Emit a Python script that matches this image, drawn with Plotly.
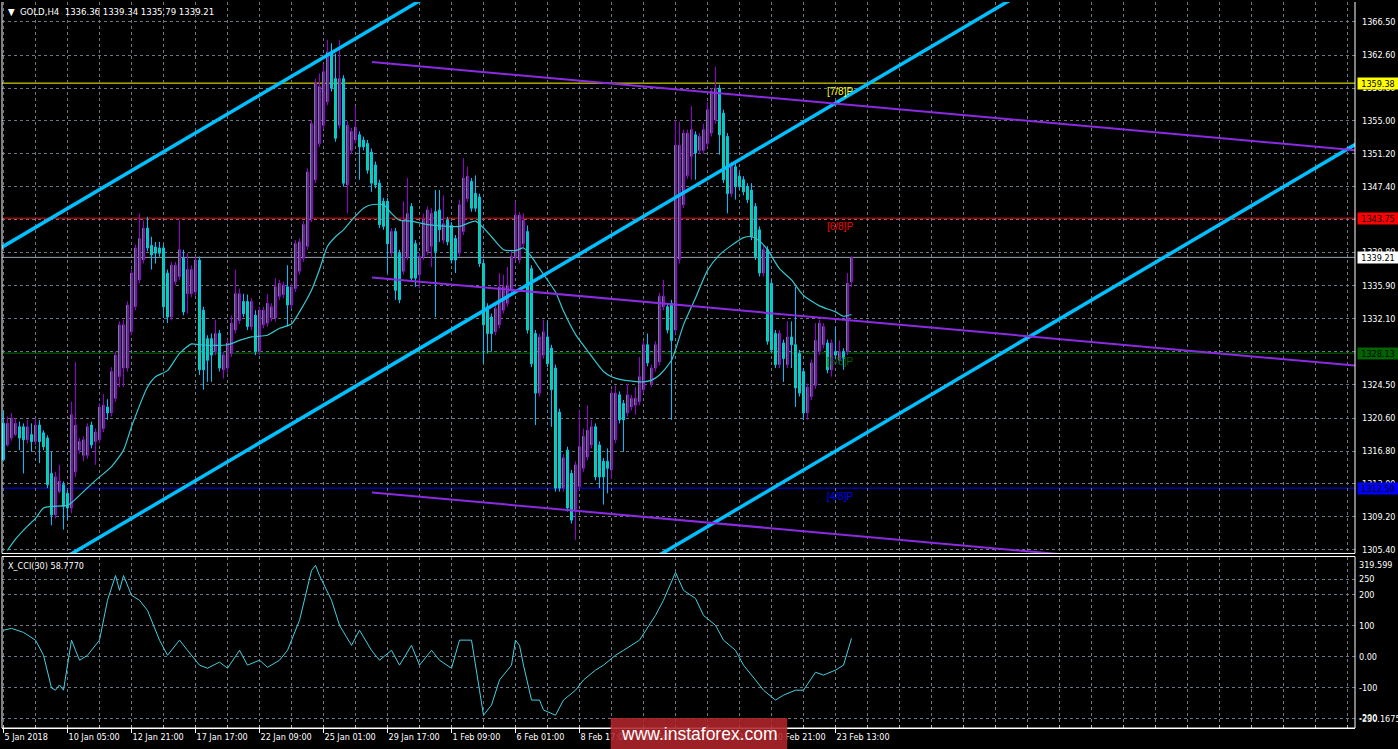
import plotly.graph_objects as go
from plotly.subplots import make_subplots

# ---------------- data ----------------
bar_index = list(range(213))
opens = [1320.0,1317.5,1318.3,1318.7,1319.6,1319.6,1318.1,1318.7,1317.9,1319.8,
         1318.9,1318.3,1314.2,1309.4,1312.1,1312.9,1311.9,1310.2,1314.4,1316.9,
         1316.3,1316.3,1319.8,1317.9,1318.1,1319.4,1321.9,1321.2,1322.9,1325.4,
         1326.4,1326.4,1330.6,1333.5,1336.6,1338.9,1342.6,1340.6,1340.4,1340.3,
         1340.3,1337.4,1332.3,1336.4,1337.0,1339.1,1335.0,1335.0,1335.2,1338.9,
         1333.1,1329.8,1329.8,1328.3,1330.4,1326.2,1326.4,1328.1,1330.8,1331.9,
         1334.1,1334.1,1331.2,1332.5,1328.3,1331.4,1331.6,1332.2,1332.2,1334.7,
         1334.9,1335.8,1333.7,1335.6,1337.6,1339.1,1340.5,1343.7,1348.2,1352.4,
         1354.5,1357.2,1363.0,1359.9,1354.5,1359.9,1347.6,1351.6,1352.8,1353.4,
         1352.8,1352.4,1351.4,1349.9,1347.8,1345.7,1345.7,1339.7,1342.2,1339.7,
         1337.6,1339.3,1345.1,1340.8,1337.2,1339.3,1339.9,1340.5,1344.5,1344.7,
         1341.2,1343.5,1342.9,1341.4,1339.7,1342.2,1346.0,1348.0,1346.6,1346.2,
         1338.5,1333.5,1332.3,1330.6,1331.4,1333.1,1333.9,1335.4,1339.3,1338.9,
         1340.8,1342.2,1337.9,1330.4,1323.5,1327.9,1330.0,1328.7,1326.4,1321.3,
         1312.5,1316.9,1314.2,1310.0,1312.7,1314.8,1316.1,1317.5,1319.6,1317.5,
         1315.6,1315.6,1314.6,1318.1,1323.3,1322.3,1321.2,1321.9,1322.1,1322.5,
         1323.9,1329.1,1324.6,1326.4,1327.1,1333.5,1333.5,1333.9,1330.8,1339.0,
         1345.3,1348.7,1350.9,1353.4,1351.6,1351.6,1352.4,1353.6,1355.1,1358.8,
         1355.9,1353.2,1346.6,1349.7,1348.6,1348.2,1347.4,1347.0,1345.1,1342.4,
         1337.4,1340.1,1336.2,1330.4,1326.8,1329.3,1326.8,1330.0,1329.1,1328.1,
         1326.0,1321.2,1323.1,1324.4,1328.3,1329.1,1329.3,1326.2,1328.3,1327.3,
         1328.3,1328.3,1336.36]
highs = [1321.5,1320.8,1321.2,1320.6,1320.2,1320.0,1320.4,1320.0,1320.6,1320.4,
         1319.2,1318.6,1316.7,1314.4,1315.2,1313.3,1312.3,1322.5,1327.1,1318.3,
         1318.5,1320.0,1320.2,1319.4,1322.3,1323.4,1322.8,1326.5,1328.3,1331.8,
         1332.0,1334.1,1337.8,1340.7,1344.3,1343.5,1343.9,1341.6,1341.0,1341.0,
         1340.7,1337.8,1338.7,1338.7,1343.5,1340.1,1339.7,1338.3,1339.3,1339.3,
         1333.5,1330.2,1330.4,1332.0,1330.8,1328.3,1329.7,1332.5,1337.8,1335.6,
         1335.0,1334.9,1334.5,1333.1,1333.5,1333.5,1335.0,1333.9,1336.8,1336.6,
         1336.4,1338.3,1336.2,1341.2,1341.4,1343.4,1349.5,1355.1,1359.9,1360.5,
         1361.6,1364.4,1364.0,1362.8,1364.4,1360.3,1355.0,1354.2,1356.7,1353.8,
         1353.2,1352.8,1351.8,1350.3,1348.2,1346.1,1346.1,1342.6,1342.6,1340.1,
         1345.7,1348.4,1345.5,1341.2,1339.7,1344.3,1345.1,1344.9,1347.0,1347.0,
         1346.4,1343.9,1343.3,1341.8,1345.9,1350.7,1349.7,1348.4,1348.7,1346.6,
         1339.0,1333.9,1332.7,1333.7,1337.4,1337.2,1338.1,1340.1,1345.7,1344.5,
         1344.3,1342.9,1338.3,1330.8,1330.4,1332.0,1331.8,1329.1,1326.8,1321.7,
         1316.4,1317.3,1314.6,1315.6,1321.5,1319.4,1322.1,1320.4,1320.0,1317.9,
         1316.0,1317.1,1323.9,1324.4,1323.7,1322.7,1324.6,1323.3,1324.2,1327.7,
         1329.5,1330.4,1326.8,1329.5,1335.1,1336.6,1333.9,1334.3,1355.1,1354.9,
         1354.0,1354.0,1356.7,1353.8,1353.6,1354.7,1357.2,1358.8,1361.3,1359.2,
         1356.3,1353.6,1350.3,1350.1,1349.0,1348.6,1347.8,1347.8,1345.5,1342.8,
         1340.5,1340.5,1336.6,1330.8,1330.8,1329.7,1331.8,1331.8,1335.8,1328.5,
         1326.4,1324.6,1327.4,1331.6,1332.0,1331.6,1329.7,1329.7,1331.2,1329.6,
         1328.7,1337.4,1339.34]
lows = [1315.6,1317.3,1318.0,1318.5,1316.9,1314.2,1317.7,1316.7,1317.5,1315.4,
        1316.9,1312.5,1308.2,1309.0,1311.9,1307.7,1308.8,1309.6,1313.8,1316.5,
        1315.6,1315.9,1317.1,1315.2,1317.7,1319.0,1320.4,1320.8,1322.5,1324.2,
        1324.2,1326.0,1330.2,1333.1,1336.2,1338.5,1339.9,1337.8,1338.5,1339.3,
        1332.2,1331.6,1331.9,1336.0,1336.6,1332.5,1332.7,1334.6,1334.8,1325.6,
        1323.9,1324.8,1324.8,1327.9,1326.0,1325.2,1325.8,1327.7,1330.4,1331.5,
        1332.3,1330.8,1330.8,1327.9,1327.9,1331.0,1331.2,1331.8,1331.8,1334.3,
        1334.5,1331.2,1333.3,1335.2,1337.2,1338.7,1340.1,1343.3,1347.8,1352.0,
        1354.1,1356.8,1358.4,1352.6,1354.1,1347.4,1344.3,1351.2,1352.4,1348.2,
        1351.6,1348.9,1346.8,1347.2,1342.6,1342.4,1337.4,1339.3,1334.3,1333.9,
        1337.2,1338.9,1336.4,1335.8,1335.6,1338.9,1339.5,1338.1,1332.3,1341.0,
        1340.8,1340.6,1338.5,1337.4,1339.3,1341.8,1345.6,1344.5,1344.5,1338.1,
        1326.9,1328.1,1328.3,1330.2,1331.0,1332.7,1333.5,1335.0,1338.9,1338.5,
        1340.4,1330.4,1326.5,1319.8,1323.1,1327.5,1326.5,1319.6,1312.1,1312.1,
        1312.1,1309.8,1308.4,1306.5,1312.3,1314.4,1315.7,1317.1,1313.4,1312.5,
        1310.6,1311.9,1313.6,1317.7,1320.0,1316.7,1320.8,1321.5,1321.0,1322.1,
        1323.5,1326.6,1324.2,1326.0,1326.7,1333.1,1330.4,1320.4,1330.4,1338.5,
        1344.9,1348.3,1348.2,1348.2,1351.2,1351.2,1352.0,1353.2,1354.7,1351.1,
        1347.8,1344.3,1346.2,1345.9,1347.0,1346.4,1345.5,1341.2,1338.9,1337.0,
        1337.0,1329.1,1328.1,1326.4,1326.4,1324.8,1326.4,1326.4,1321.9,1323.1,
        1320.4,1320.4,1322.7,1324.0,1327.9,1328.7,1325.8,1325.4,1327.4,1326.9,
        1326.2,1327.9,1335.79]
closes = [1315.8,1320.0,1320.6,1320.0,1318.3,1318.1,1319.6,1317.9,1319.8,1317.9,
          1317.3,1312.9,1309.4,1313.8,1313.3,1310.4,1310.2,1321.0,1319.8,1317.9,
          1318.1,1319.6,1317.5,1319.0,1321.9,1322.1,1321.2,1326.0,1327.9,1331.4,
          1331.4,1333.7,1337.4,1340.3,1341.4,1342.6,1340.3,1339.5,1339.7,1339.7,
          1333.5,1332.3,1338.3,1338.3,1340.1,1332.9,1337.8,1337.8,1338.9,1326.2,
          1326.2,1327.3,1327.9,1330.4,1326.4,1327.9,1329.3,1331.6,1335.0,1335.0,
          1332.7,1331.2,1334.1,1328.3,1333.1,1333.1,1333.9,1333.5,1335.8,1336.2,
          1336.0,1333.7,1335.8,1340.8,1341.0,1343.0,1349.1,1354.7,1359.4,1359.0,
          1360.7,1363.0,1358.8,1353.0,1359.9,1347.8,1354.5,1353.8,1354.3,1352.0,
          1352.0,1349.3,1347.8,1347.6,1343.0,1342.8,1340.8,1342.2,1335.4,1334.3,
          1343.5,1344.3,1336.8,1336.8,1339.3,1343.5,1344.7,1344.3,1339.9,1342.4,
          1343.1,1341.0,1338.9,1338.9,1345.3,1348.4,1348.6,1344.9,1344.9,1338.5,
          1331.4,1330.4,1330.4,1333.3,1335.8,1335.8,1336.0,1339.3,1344.1,1344.1,
          1343.5,1330.8,1326.9,1323.5,1330.0,1330.6,1326.9,1323.9,1312.5,1312.5,
          1316.0,1310.2,1308.8,1315.2,1317.3,1318.5,1319.2,1319.6,1313.8,1313.8,
          1313.8,1314.8,1323.5,1323.5,1320.4,1320.4,1323.3,1322.9,1322.9,1325.4,
          1329.1,1327.0,1326.4,1329.1,1334.7,1334.7,1330.8,1329.6,1352.2,1352.2,
          1353.6,1353.6,1354.0,1351.3,1353.2,1354.0,1356.3,1358.4,1358.8,1353.4,
          1348.2,1346.6,1349.9,1347.4,1347.4,1346.8,1345.9,1341.6,1339.3,1337.4,
          1340.1,1329.5,1328.5,1326.8,1330.4,1327.5,1330.0,1329.1,1324.1,1323.5,
          1321.2,1324.2,1327.0,1329.6,1331.6,1331.2,1326.2,1329.3,1327.9,1328.3,
          1327.5,1336.2,1339.21]

ma_bars = [1, 3, 6, 8, 10, 12, 16, 17, 20, 23, 27, 30, 32, 36, 38, 41, 44, 47, 49, 56,
           59, 62, 66, 69, 72, 74, 77, 79, 81, 83, 85, 87, 90, 92, 95, 97, 99, 102, 106, 114,
           118, 122, 125, 128, 130, 132, 134, 138, 140, 143, 146, 150, 152, 155, 160, 162, 164, 167, 170, 173,
           176, 179, 182, 185, 187, 189, 191, 194, 197, 200, 204, 208, 210, 212]
ma_values = [1305.3, 1306.6, 1308.1, 1309.0, 1310.2, 1310.4, 1310.5, 1310.8, 1312.1, 1313.4,
             1315.0, 1316.9, 1319.6, 1324.2, 1325.4, 1326.1, 1328.1, 1329.2, 1329.1, 1329.1,
             1329.6, 1330.0, 1330.2, 1331.0, 1331.5, 1332.9, 1335.4, 1337.8, 1340.5, 1341.6,
             1342.4, 1343.5, 1344.9, 1345.3, 1345.3, 1344.3, 1343.5, 1343.4, 1343.0, 1342.8,
             1343.4, 1341.6, 1340.1, 1340.0, 1340.3, 1339.3, 1337.9, 1335.2, 1333.0, 1330.3,
             1328.4, 1326.0, 1325.4, 1325.0, 1324.8, 1325.0, 1325.6, 1327.3, 1331.4, 1334.5,
             1337.7, 1339.5, 1340.6, 1341.5, 1341.6, 1341.1, 1340.1, 1337.9, 1336.6, 1334.8,
             1333.6, 1332.9, 1332.4, 1332.6]

cci_bars = [0, 2, 5, 8, 10, 12, 13, 14, 15, 17, 18, 19, 21, 24, 26, 28, 29, 30, 32, 34,
            36, 39, 41, 44, 46, 49, 51, 54, 56, 59, 61, 64, 66, 69, 71, 74, 77, 78, 79, 82,
            84, 87, 89, 92, 94, 97, 99, 102, 104, 107, 109, 112, 114, 117, 119, 120, 122, 124, 127, 128,
            129, 130, 132, 134, 135, 138, 140, 143, 145, 148, 150, 153, 155, 159, 163, 165, 168, 170, 173, 175,
            178, 180, 183, 185, 188, 190, 193, 195, 198, 200, 203, 205, 208, 210, 212]
cci_values = [85, 91, 78, 53, 4, -102, -109, -92, -109, 53, 20, -12, 4, 53, 182, 262, 214, 262, 198, 182,
              149, 53, 4, 53, 20, -28, -38, -18, -38, 20, -28, -12, -35, -12, 20, 117, 278, 295, 262, 182,
              101, 36, 85, 20, -12, 20, -28, 36, -28, 20, -12, -38, 53, 53, -109, -190, -157, -76, -28, 53,
              36, -28, -141, -141, -173, -190, -141, -109, -76, -44, -28, 4, 20, 53, 133, 182, 272, 214, 188, 133,
              101, 53, 20, -28, -76, -109, -141, -125, -109, -109, -51, -60, -44, -28, 58.777]

x_tick_bars = [0, 16, 32, 48, 64, 80, 96, 112, 128, 144, 160, 176, 192, 208]
x_tick_text = ["5 Jan 2018", "10 Jan 05:00", "12 Jan 21:00", "17 Jan 17:00", "22 Jan 09:00",
               "25 Jan 01:00", "29 Jan 17:00", "1 Feb 09:00", "6 Feb 01:00", "8 Feb 17:00",
               "13 Feb 09:00", "15 Feb 21:00", "20 Feb 21:00", "23 Feb 13:00"]
price_ticks = [1366.50, 1362.60, 1358.80, 1355.00, 1351.20, 1347.40, 1343.60, 1339.80, 1335.90,
               1332.10, 1328.30, 1324.50, 1320.60, 1316.80, 1313.00, 1309.20, 1305.40]
cci_ticks = [250, 200, 100, 0, -100, -200]
cci_tick_text = ["250", "200", "100", "0.00", "-100", "-200"]

murrey_levels = [1359.38, 1343.75, 1328.13, 1312.50]
murrey_names = ["[7/8]P", "[6/8]P", "[5/8]P", "[4/8]P"]
bid_price = 1339.21
header_ohlc = "1336.36 1339.34 1335.79 1339.21"
cci_last = 58.7770
cci_max = 319.599
cci_min = -230.1675

blue_channel_x = [-1, 338]
blue_channel_upper = [1340.23, 1432.81]
blue_channel_mid = [1299.99, 1392.57]
blue_channel_lower = [1259.71, 1352.29]
purple_x = [92.125, 338]
purple_upper = [1361.82, 1351.61]
purple_mid = [1336.89, 1326.68]
purple_lower = [1312.00, 1301.79]

# ---------------- styles ----------------
FONT = "DejaVu Sans Condensed, Liberation Sans, sans-serif"
BULL = "#9400D3"
BEAR = "#00BFFF"
EDGE = "#22E822"
EDGE_SHIFT = -0.25         # left edge column of each body, in bar widths
CHAN = "#00BFFF"
VIOLET = "#8A2BE2"
MA_COL = "#35C6CF"
CCI_COL = "#45CFE0"
GRID = "#6B7785"
level_line_colors = ["#FFFF00", "#FF0000", "#007000", "#0000FF"]
level_box_colors = ["#FFFF00", "#FF0000", "#006400", "#0000FF"]
level_text_colors = ["#FFFF00", "#FF0000", "#006400", "#0000FF"]

fig = make_subplots(rows=2, cols=1, shared_xaxes=True, vertical_spacing=0.004)

fig.add_trace(go.Candlestick(
    x=bar_index, open=opens, high=highs, low=lows, close=closes,
    increasing=dict(line=dict(color=BULL, width=1), fillcolor=BULL),
    decreasing=dict(line=dict(color=BEAR, width=1), fillcolor=BEAR),
    hoverinfo="skip", showlegend=False), row=1, col=1)

# thin lime stroke on the left side of each candle body (as in the MT4 rendering)
edge_x, edge_y = [], []
for k, o, c in zip(bar_index, opens, closes):
    edge_x += [k + EDGE_SHIFT, k + EDGE_SHIFT, None]
    edge_y += [min(o, c), max(o, c), None]
fig.add_trace(go.Scatter(x=edge_x, y=edge_y, mode="lines", connectgaps=False, opacity=0.7,
                         line=dict(color=EDGE, width=1), hoverinfo="skip"), row=1, col=1)

fig.add_trace(go.Scatter(x=ma_bars, y=ma_values, mode="lines",
                         line=dict(color=MA_COL, width=1.2, shape="spline", smoothing=0.6),
                         hoverinfo="skip"), row=1, col=1)

for ys in (blue_channel_upper, blue_channel_mid, blue_channel_lower):
    fig.add_trace(go.Scatter(x=blue_channel_x, y=ys, mode="lines",
                             line=dict(color=CHAN, width=3.5), hoverinfo="skip"), row=1, col=1)
for ys in (purple_upper, purple_mid, purple_lower):
    fig.add_trace(go.Scatter(x=purple_x, y=ys, mode="lines",
                             line=dict(color=VIOLET, width=2), hoverinfo="skip"), row=1, col=1)

fig.add_trace(go.Scatter(x=cci_bars, y=cci_values, mode="lines",
                         line=dict(color=CCI_COL, width=1), hoverinfo="skip"), row=2, col=1)

PRICE_DOM = [0.2404, 1.0]
CCI_DOM = [0.0, 0.2362]

fig.update_layout(
    width=1398, height=749,
    margin=dict(l=2, r=43, t=2, b=21),
    paper_bgcolor="black", plot_bgcolor="black",
    showlegend=False, boxgap=0.5, boxgroupgap=0,
    font=dict(family=FONT, size=9, color="white"),
    xaxis=dict(range=[-0.375, 337.875], rangeslider=dict(visible=False),
               showticklabels=False, tickmode="linear", tick0=0, dtick=8,
               showgrid=True, gridcolor=GRID, griddash="3px,3px", gridwidth=1,
               zeroline=False, ticks=""),
    xaxis2=dict(range=[-0.375, 337.875], tickmode="array", tickvals=x_tick_bars,
                ticktext=x_tick_text, ticks="outside", ticklen=4, tickcolor="white",
                ticklabelposition="outside right",
                tickfont=dict(color="white", size=9, family=FONT),
                showgrid=True, gridcolor=GRID, griddash="3px,3px",
                minor=dict(tickmode="linear", tick0=0, dtick=8, ticks="inside",
                           ticklen=3, tickcolor="#BBBBBB", showgrid=True,
                           gridcolor=GRID, griddash="3px,3px"),
                showline=True, linecolor="white", linewidth=1, zeroline=False),
    yaxis=dict(domain=PRICE_DOM, range=[1304.94, 1368.77], side="right",
               tickmode="array", tickvals=price_ticks,
               ticktext=["%.2f" % v for v in price_ticks],
               showgrid=True, gridcolor=GRID, griddash="3px,3px", zeroline=False,
               ticks="", ticklabelstandoff=6,
               tickfont=dict(color="white", size=9, family=FONT)),
    yaxis2=dict(domain=CCI_DOM, range=[-231.3, 323.5], side="right",
                tickmode="array", tickvals=cci_ticks, ticktext=cci_tick_text,
                showgrid=True, gridcolor=GRID, griddash="3px,3px", zeroline=False,
                ticks="", ticklabelstandoff=3,
                tickfont=dict(color="white", size=9, family=FONT)),
)

shapes = []
for lv, col in zip(murrey_levels, level_line_colors):
    shapes.append(dict(type="line", xref="paper", x0=0, x1=1, yref="y", y0=lv, y1=lv,
                       line=dict(color=col, width=1), layer="below"))
shapes.append(dict(type="line", xref="paper", x0=0, x1=1, yref="y", y0=bid_price, y1=bid_price,
                   line=dict(color="#9AA3AD", width=1), layer="below"))
W = dict(color="white", width=1)
shapes += [
    dict(type="line", xref="paper", yref="paper", x0=0, x1=0, y0=PRICE_DOM[0], y1=1, line=W),
    dict(type="line", xref="paper", yref="paper", x0=1, x1=1, y0=PRICE_DOM[0], y1=1, line=W),
    dict(type="line", xref="paper", yref="paper", x0=0, x1=1, y0=PRICE_DOM[0], y1=PRICE_DOM[0], line=W),
    dict(type="rect", xref="paper", yref="paper", x0=0, x1=1, y0=0, y1=CCI_DOM[1], line=W),
]
shapes.append(dict(type="rect", xref="paper", yref="paper", x0=0.4499, x1=0.5804,
                   y0=-0.0289, y1=0.0138, fillcolor="rgba(178,38,44,0.88)", line=dict(width=0),
                   layer="above"))
fig.update_layout(shapes=shapes)

ann = []
for lv, col in zip(murrey_levels, level_box_colors):
    ann.append(dict(xref="paper", x=1, xanchor="left", xshift=2, yref="y", y=lv,
                    text="%.2f" % lv, showarrow=False, bgcolor=col, width=40, height=11,
                    borderpad=0, align="center",
                    font=dict(color="black", size=9, family=FONT)))
ann.append(dict(xref="paper", x=1, xanchor="left", xshift=2, yref="y", y=bid_price,
                text="%.2f" % bid_price, showarrow=False, bgcolor="white", width=40, height=11,
                borderpad=0, align="center", font=dict(color="black", size=9, family=FONT)))
for lv, nm, col in zip(murrey_levels, murrey_names, level_text_colors):
    ann.append(dict(xref="x", x=209, yref="y", y=lv, yanchor="top", yshift=-1,
                    text=nm, showarrow=False, font=dict(color=col, size=10, family="Liberation Sans")))
ann.append(dict(xref="paper", yref="paper", x=0.003, y=0.997, xanchor="left", yanchor="top",
                text="\u25bc\u00a0\u00a0GOLD,H4\u00a0\u00a0" + header_ohlc, showarrow=False,
                font=dict(color="white", size=9.5, family=FONT)))
ann.append(dict(xref="paper", yref="paper", x=0.003, y=CCI_DOM[1] - 0.004, xanchor="left", yanchor="top",
                text="X_CCI(30) %.4f" % cci_last, showarrow=False,
                font=dict(color="white", size=9, family=FONT)))
ann.append(dict(xref="paper", x=1, xanchor="left", xshift=2, yref="y2", y=cci_max, yanchor="top",
                text="%.3f" % cci_max, showarrow=False, font=dict(color="white", size=9, family=FONT)))
ann.append(dict(xref="paper", x=1, xanchor="left", xshift=2, yref="y2", y=cci_min, yanchor="bottom",
                yshift=2, text="%.4f" % cci_min, showarrow=False,
                font=dict(color="white", size=9, family=FONT)))
ann.append(dict(xref="paper", yref="paper", x=0.5152, y=-0.0076, xanchor="center", yanchor="middle",
                text="www.instaforex.com", showarrow=False,
                font=dict(color="white", size=17.5, family="Liberation Sans")))
fig.update_layout(annotations=ann)

fig.write_html("out.html", config=dict(displayModeBar=False),
               post_script="document.body.style.margin='0';document.body.style.overflow='hidden';")
